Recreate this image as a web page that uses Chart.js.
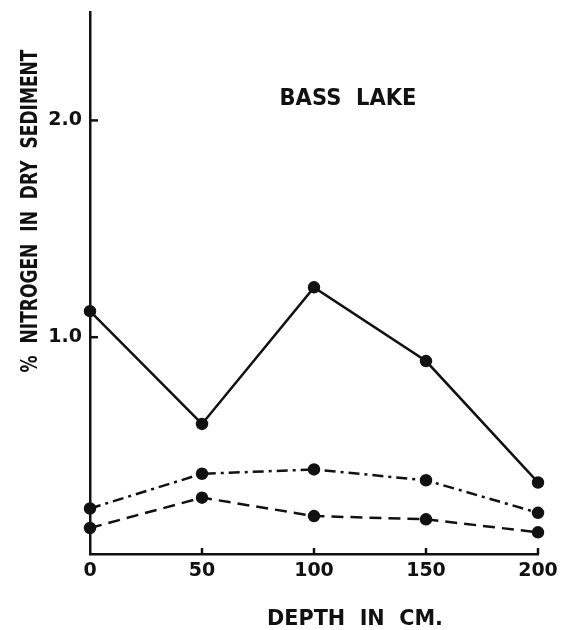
<!DOCTYPE html>
<html>
<head>
<meta charset="utf-8">
<script src="https://cdn.jsdelivr.net/npm/chart.js@4"></script>
<style>
  body { margin: 0; background: #fff; }
  canvas { display: block; }
</style>
</head>
<body>
<canvas id="nitrogenChart" width="562" height="630"></canvas>
<script>
const depths = [0, 50, 100, 150, 200];
const solidLine = [1.12, 0.60, 1.23, 0.89, 0.33];
const dashDotLine = [0.21, 0.37, 0.39, 0.34, 0.19];
const dashedLine = [0.12, 0.26, 0.175, 0.16, 0.10];
const yTickValues = [1.0, 2.0];
const xTickValues = [0, 50, 100, 150, 200];

const FONT = '"DejaVu Sans", "Liberation Sans", sans-serif';
const INK = '#111';

function pairs(values) {
  return depths.map((d, i) => ({ x: d, y: values[i] }));
}

function series(values, dash) {
  return {
    data: pairs(values),
    borderColor: INK,
    borderWidth: 2.5,
    borderDash: dash,
    pointRadius: 5,
    pointBackgroundColor: INK,
    pointBorderColor: INK,
    tension: 0,
    clip: false
  };
}

// squeeze a line of capitals into a given box
function fitText(ctx, text, cx, cy, width, size, angle) {
  ctx.save();
  ctx.translate(cx, cy);
  ctx.rotate(angle);
  ctx.font = 'bold ' + size + 'px ' + FONT;
  ctx.fillStyle = INK;
  ctx.textAlign = 'center';
  ctx.textBaseline = 'alphabetic';
  const w = ctx.measureText(text).width;
  ctx.scale(width / w, 1);
  ctx.fillText(text, 0, size * 0.365);
  ctx.restore();
}

const decorations = {
  id: 'decorations',
  afterDraw(chart) {
    const ctx = chart.ctx;
    const xs = chart.scales.x, ys = chart.scales.y;
    const area = chart.chartArea;
    ctx.save();
    ctx.strokeStyle = INK;
    ctx.lineWidth = 2.5;
    yTickValues.forEach(v => {
      const py = ys.getPixelForValue(v);
      ctx.beginPath();
      ctx.moveTo(area.left, py);
      ctx.lineTo(area.left + 8, py);
      ctx.stroke();
    });
    xTickValues.slice(1).forEach(v => {
      const px = xs.getPixelForValue(v);
      ctx.beginPath();
      ctx.moveTo(px, area.bottom);
      ctx.lineTo(px, area.bottom - 6);
      ctx.stroke();
    });
    ctx.restore();

    fitText(ctx, 'BASS  LAKE', 348, 97, 137, 23, 0);
    fitText(ctx, 'DEPTH  IN  CM.', 355, 617, 176, 22, 0);
    fitText(ctx, '%  NITROGEN  IN  DRY  SEDIMENT', 29, 211, 323, 23, -Math.PI / 2);
  }
};

new Chart(document.getElementById('nitrogenChart'), {
  type: 'line',
  data: {
    datasets: [
      series(solidLine, []),
      series(dashDotLine, [11, 5, 3, 5]),
      series(dashedLine, [12, 7])
    ]
  },
  options: {
    responsive: false,
    animation: false,
    devicePixelRatio: 1,
    layout: { padding: { top: 12, right: 24, left: 0, bottom: 0 } },
    plugins: {
      legend: { display: false },
      title: { display: false },
      tooltip: { enabled: false }
    },
    scales: {
      x: {
        type: 'linear',
        min: 0,
        max: 200,
        afterBuildTicks: scale => { scale.ticks = xTickValues.map(v => ({ value: v })); },
        afterFit: scale => {
          scale.height = 76;
          scale.paddingLeft = 0;
          scale.paddingRight = 0;
        },
        grid: { display: false, drawTicks: false },
        border: { display: true, color: INK, width: 2.5 },
        ticks: {
          color: INK,
          padding: 6,
          maxRotation: 0,
          font: { family: FONT, size: 19, weight: 'bold' }
        }
      },
      y: {
        min: 0,
        max: 2.5,
        afterBuildTicks: scale => { scale.ticks = yTickValues.map(v => ({ value: v })); },
        afterFit: scale => {
          scale.width = 90;
          scale.paddingTop = 0;
          scale.paddingBottom = 0;
        },
        grid: { display: false, drawTicks: false },
        border: { display: true, color: INK, width: 2.5 },
        ticks: {
          color: INK,
          padding: 8,
          font: { family: FONT, size: 19, weight: 'bold' },
          callback: v => Number(v).toFixed(1)
        }
      }
    }
  },
  plugins: [decorations]
});
</script>
</body>
</html>
